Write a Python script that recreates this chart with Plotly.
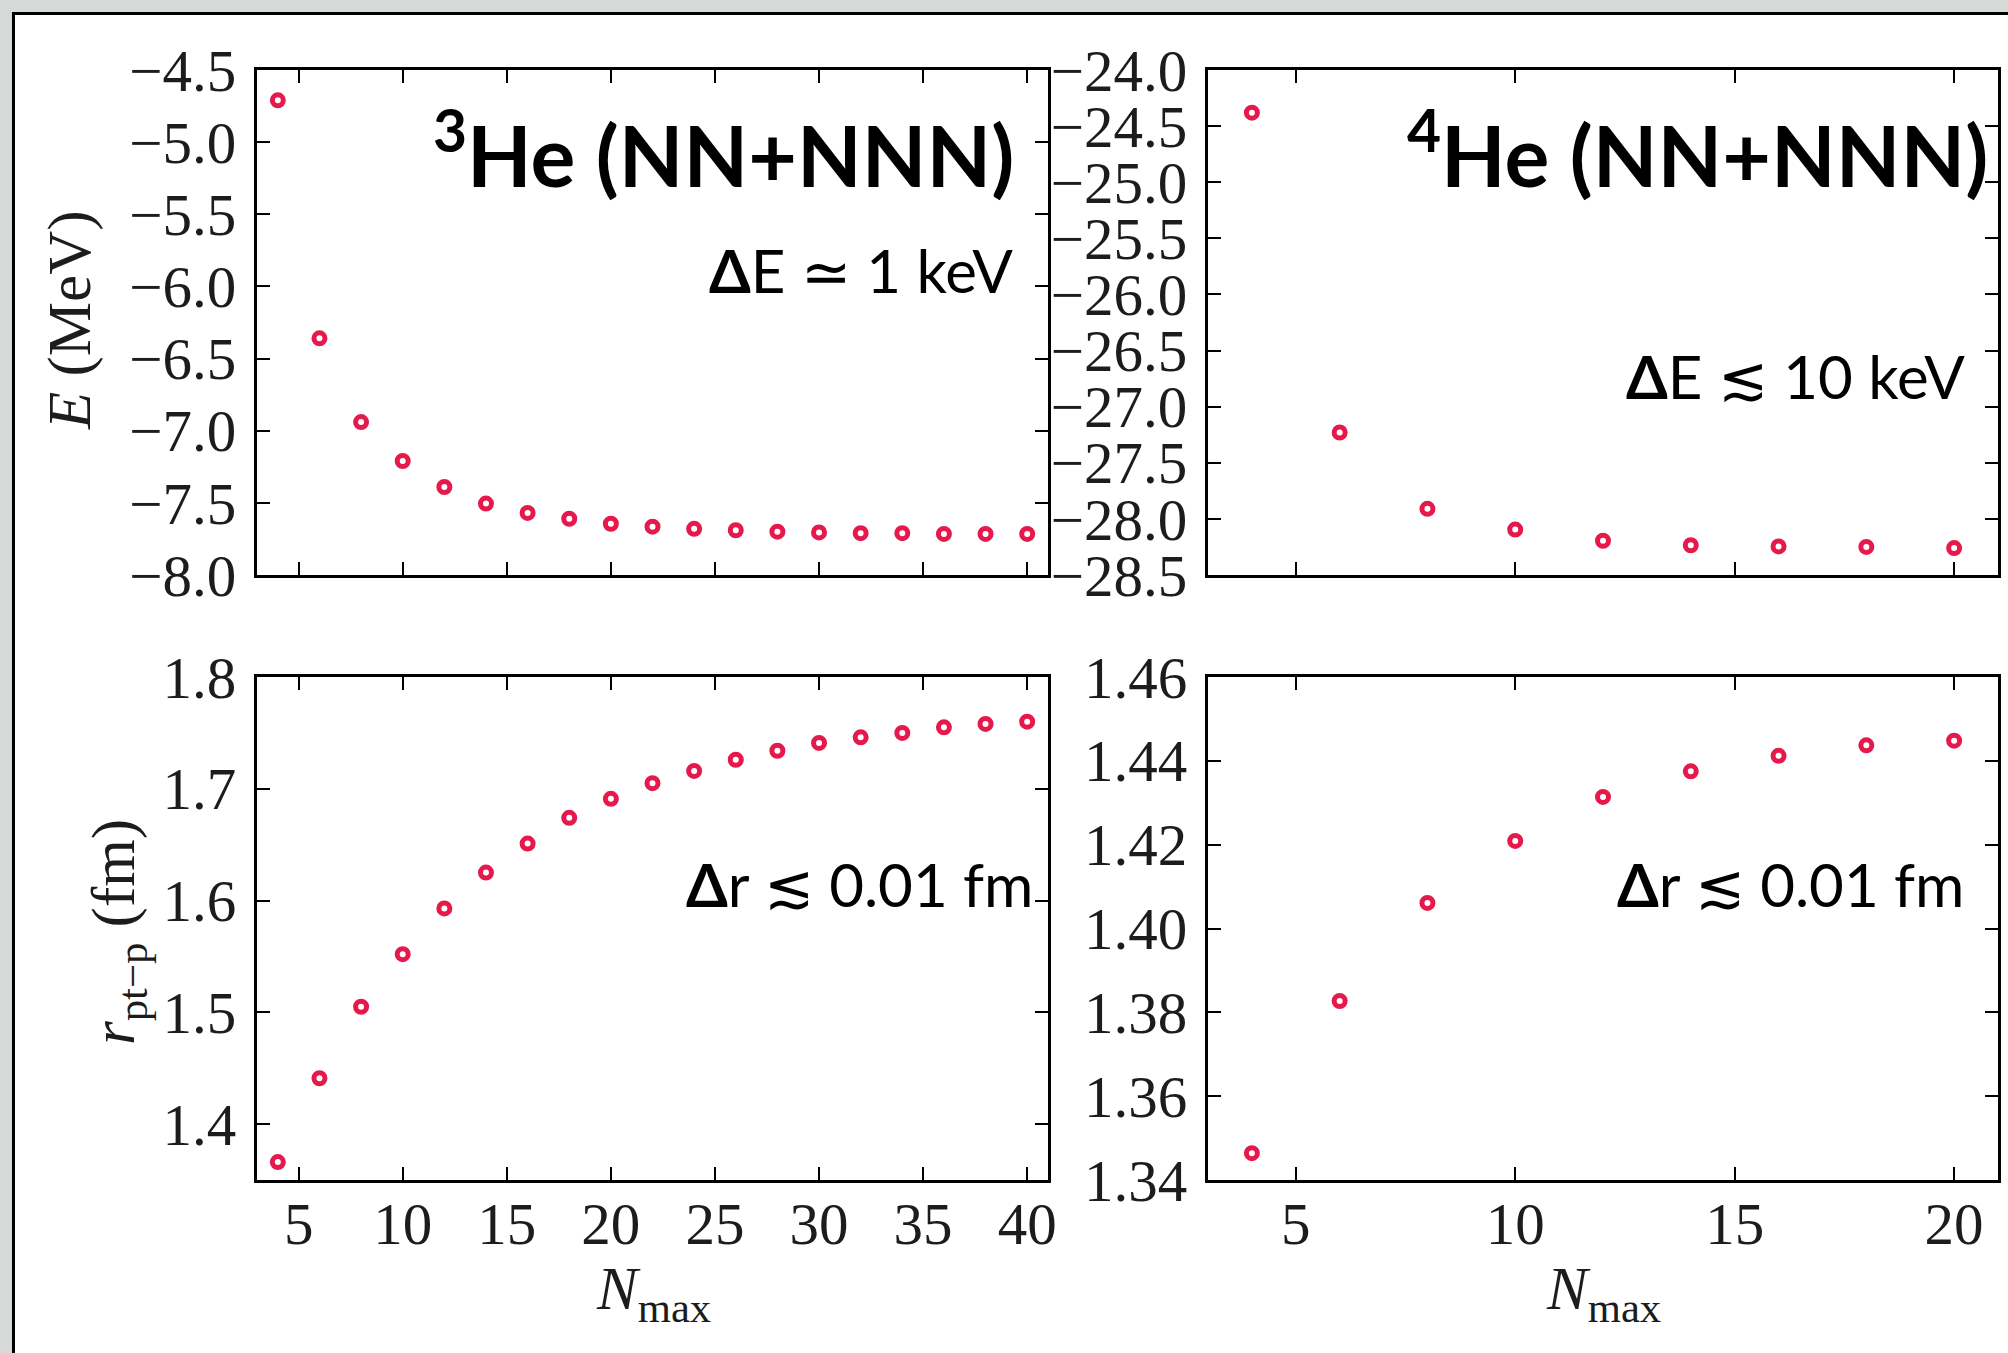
import plotly.graph_objects as go

# ---------------- data ----------------
nmax_3he = [4, 6, 8, 10, 12, 14, 16, 18, 20, 22, 24, 26, 28, 30, 32, 34, 36, 38, 40]
E_3he = [-4.71, -6.36, -6.94, -7.21, -7.39, -7.505, -7.57, -7.61, -7.645, -7.665,
         -7.68, -7.69, -7.70, -7.705, -7.71, -7.71, -7.715, -7.715, -7.715]
r_3he = [1.366, 1.441, 1.505, 1.552, 1.593, 1.625, 1.651, 1.674, 1.691, 1.705,
         1.716, 1.726, 1.734, 1.741, 1.746, 1.750, 1.755, 1.758, 1.760]

nmax_4he = [4, 6, 8, 10, 12, 14, 16, 18, 20]
E_4he = [-24.38, -27.23, -27.91, -28.095, -28.195, -28.235, -28.245, -28.25, -28.26]
r_4he = [1.3464, 1.3827, 1.4061, 1.4209, 1.4314, 1.4375, 1.4412, 1.4437, 1.4448]

xticks_3he = [5, 10, 15, 20, 25, 30, 35, 40]
xticks_4he = [5, 10, 15, 20]

title_3he = "<sup>3</sup>He (NN+NNN)"
title_4he = "<sup>4</sup>He (NN+NNN)"
note_E3 = "<b>Δ</b>E ≃ 1 keV"
note_E4 = "<b>Δ</b>E ≲ 10 keV"
note_r = "<b>Δ</b>r ≲ 0.01 fm"

# ---------------- layout helpers ----------------
W, H = 2008, 1353
def px(x):
    return x / W
def py(y):
    return 1 - y / H

XL = [px(257), px(1048)]
XR = [px(1208), px(1998)]
YT = [py(575), py(70)]
YB = [py(1180), py(677)]

MARK = dict(symbol="circle-open", size=11, color="#e5194c",
            line=dict(width=5, color="#e5194c"))

tickfont = dict(family="Liberation Serif", size=59, color="#1c1c1c")

def axis(domain, anchor, rng, **kw):
    d = dict(domain=domain, anchor=anchor, range=rng, showline=True, linewidth=3,
             linecolor="black", mirror="ticks", ticks="inside", ticklen=13,
             tickwidth=2, tickcolor="black", showgrid=False, zeroline=False,
             tickfont=tickfont, automargin=False)
    d.update(kw)
    return d

fig = go.Figure()
fig.add_trace(go.Scatter(x=nmax_3he, y=E_3he, mode="markers", marker=MARK,
                         xaxis="x", yaxis="y", showlegend=False))
fig.add_trace(go.Scatter(x=nmax_4he, y=E_4he, mode="markers", marker=MARK,
                         xaxis="x2", yaxis="y2", showlegend=False))
fig.add_trace(go.Scatter(x=nmax_3he, y=r_3he, mode="markers", marker=MARK,
                         xaxis="x3", yaxis="y3", showlegend=False))
fig.add_trace(go.Scatter(x=nmax_4he, y=r_4he, mode="markers", marker=MARK,
                         xaxis="x4", yaxis="y4", showlegend=False))

fig.update_layout(
    width=W, height=H, autosize=False,
    margin=dict(l=0, r=0, t=0, b=0, pad=0, autoexpand=False),
    paper_bgcolor="#d5dad8", plot_bgcolor="rgba(0,0,0,0)",
    xaxis=axis(XL, "y", [3, 41], tickvals=xticks_3he, showticklabels=False),
    yaxis=axis(YT, "x", [-8.0, -4.5], dtick=0.5, tick0=-8.0, tickformat=".1f",
               ticklabelstandoff=6),
    xaxis2=axis(XR, "y2", [3, 21], tickvals=xticks_4he, showticklabels=False),
    yaxis2=axis(YT, "x2", [-28.5, -24.0], dtick=0.5, tick0=-28.5, tickformat=".1f",
                ticklabelstandoff=6),
    xaxis3=axis(XL, "y3", [3, 41], tickvals=xticks_3he, ticklabelstandoff=-10),
    yaxis3=axis(YB, "x3", [1.35, 1.8], tickvals=[1.4, 1.5, 1.6, 1.7, 1.8],
                tickformat=".1f", ticklabelstandoff=6),
    xaxis4=axis(XR, "y4", [3, 21], tickvals=xticks_4he, ticklabelstandoff=-10),
    yaxis4=axis(YB, "x4", [1.34, 1.46], tickvals=[1.34, 1.36, 1.38, 1.40, 1.42, 1.44, 1.46],
                tickformat=".2f", ticklabelstandoff=6),
)

# white framed sheet
fig.add_shape(type="rect", xref="paper", yref="paper",
              x0=px(13.5), y0=-0.05, x1=1.05, y1=py(13.5),
              fillcolor="white", line=dict(color="black", width=3), layer="below")

labfont = dict(family="Liberation Serif", size=61, color="#1c1c1c")
big = dict(family="Lato", size=84, color="black", weight="bold")
note = dict(family="Lato", size=60, color="black")

ann = [
    dict(x=px(70), y=py(320), text="<i>E</i> (MeV)", textangle=-90, font=labfont,
         xanchor="center", yanchor="middle"),
    dict(x=px(118), y=py(932), text="<i>r</i><sub>pt−p</sub> (fm)", textangle=-90,
         font=labfont, xanchor="center", yanchor="middle"),
    dict(x=px(653), y=py(1293), text="<i>N</i><sub>max</sub>", font=labfont,
         xanchor="center", yanchor="middle"),
    dict(x=px(1603), y=py(1293), text="<i>N</i><sub>max</sub>", font=labfont,
         xanchor="center", yanchor="middle"),
    dict(x=px(1016), y=py(150), text=title_3he, font=big, xanchor="right", yanchor="middle"),
    dict(x=px(1990), y=py(150), text=title_4he, font=big, xanchor="right", yanchor="middle"),
    dict(x=px(1015), y=py(270), text=note_E3, font=note, xanchor="right", yanchor="middle"),
    dict(x=px(1967), y=py(376), text=note_E4, font=note, xanchor="right", yanchor="middle"),
    dict(x=px(1035), y=py(884), text=note_r, font=note, xanchor="right", yanchor="middle"),
    dict(x=px(1966), y=py(884), text=note_r, font=note, xanchor="right", yanchor="middle"),
]
for a in ann:
    a.update(xref="paper", yref="paper", showarrow=False)
fig.update_layout(annotations=ann)

fig.write_html("out.html", config={"displayModeBar": False})
